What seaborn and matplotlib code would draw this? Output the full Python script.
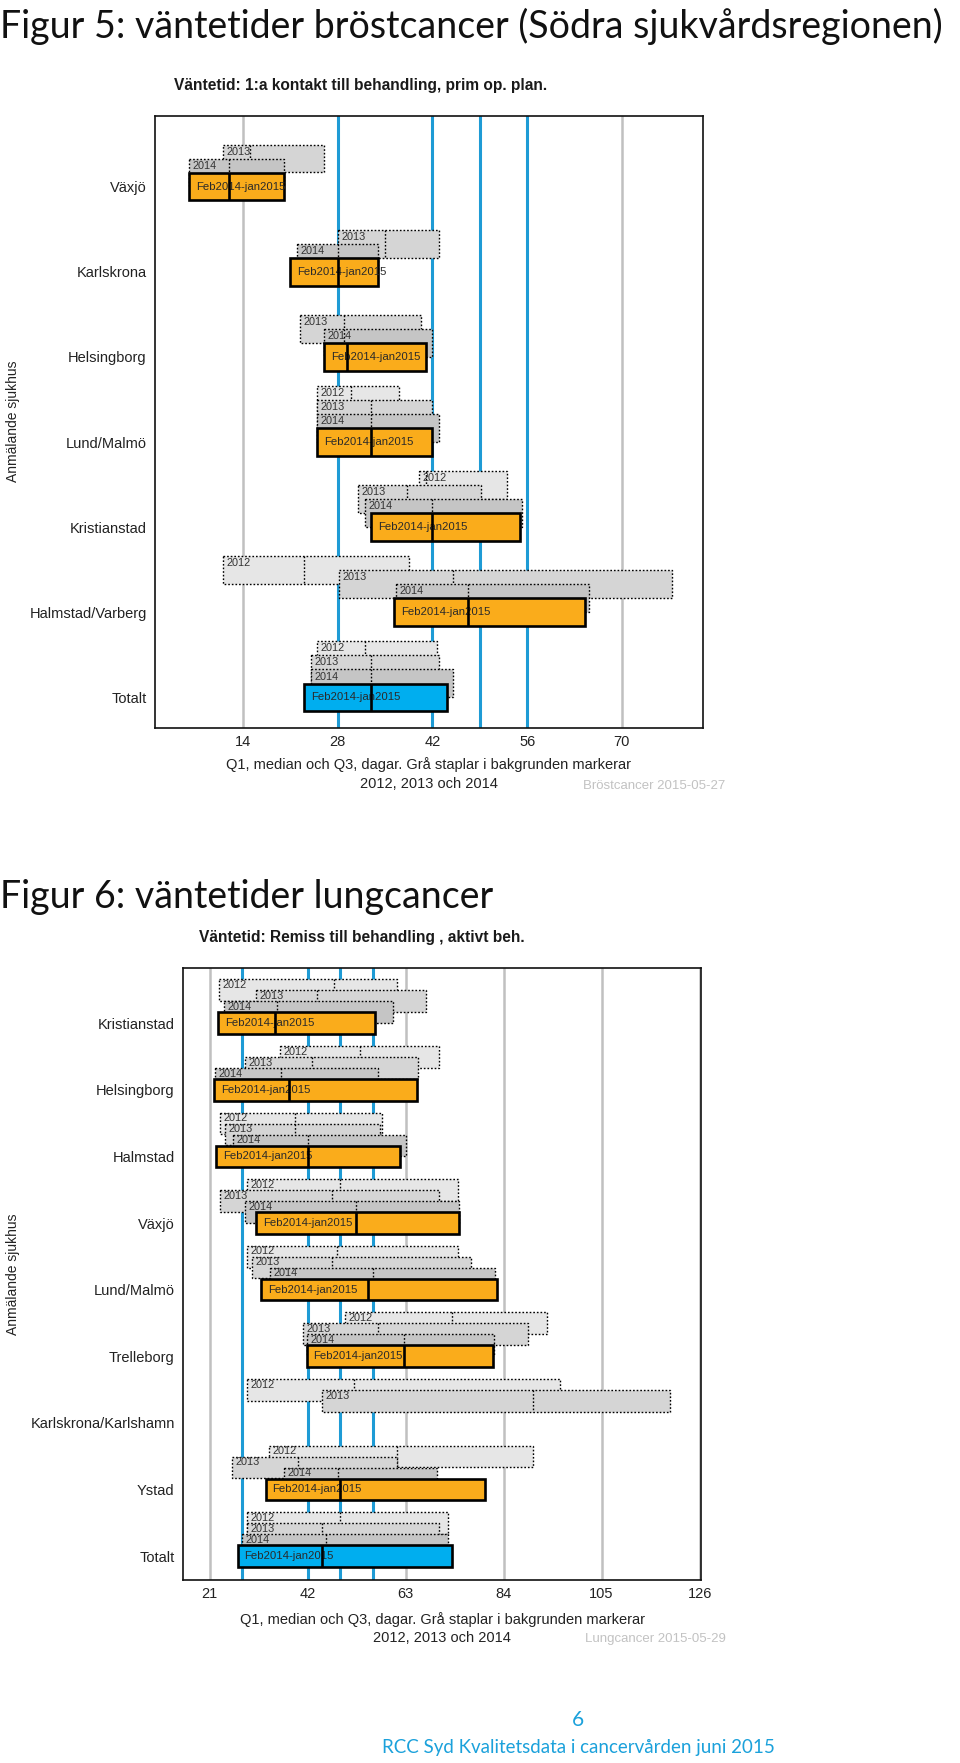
import numpy as np
import matplotlib
matplotlib.use("Agg")
import matplotlib.pyplot as plt
import seaborn as sns

nan = np.nan

# ---------------- data: breast cancer (Figur 5) ----------------
BREAST_CATS = ["Växjö", "Karlskrona", "Helsingborg", "Lund/Malmö",
               "Kristianstad", "Halmstad/Varberg", "Totalt"]
BREAST_MAIN_Q1 = [6, 21, 26, 25, 33, 36.3, 23]
BREAST_MAIN_MED = [12, 28, 29.4, 33, 42, 47.2, 33]
BREAST_MAIN_Q3 = [20, 34, 41, 42, 55, 64.5, 44.2]
BREAST_2014_Q1 = [6, 22, 26, 25, 32, 36.6, 24]
BREAST_2014_MED = [12, 28, 29, 33, 42, 47.3, 33]
BREAST_2014_Q3 = [20, 34, 42, 43, 55.2, 65.2, 45]
BREAST_2013_Q1 = [11, 28, 22.5, 25, 31, 28.2, 24]
BREAST_2013_MED = [15, 35, 29, 33, 38.2, 45, 33]
BREAST_2013_Q3 = [26, 43, 40.3, 42, 49.2, 77.4, 43]
BREAST_2012_Q1 = [nan, nan, nan, 25, 40, 11, 25]
BREAST_2012_MED = [nan, nan, nan, 30, 41, 23, 32]
BREAST_2012_Q3 = [nan, nan, nan, 37, 53, 38.6, 42.7]
BREAST_XTICKS = [14, 28, 42, 56, 70]

# ---------------- data: lung cancer (Figur 6) ----------------
LUNG_CATS = ["Kristianstad", "Helsingborg", "Halmstad", "Växjö", "Lund/Malmö",
             "Trelleborg", "Karlskrona/Karlshamn", "Ystad", "Totalt"]
LUNG_MAIN_Q1 = [22.8, 22, 22.4, 31, 32, 41.8, nan, 33, 27]
LUNG_MAIN_MED = [35, 38, 42, 52.4, 55, 62.6, nan, 49, 45]
LUNG_MAIN_Q3 = [56.5, 65.5, 61.8, 74.5, 82.5, 81.8, nan, 80, 73]
LUNG_2014_Q1 = [24, 22.2, 26, 28.6, 34, 41.8, nan, 37, 28]
LUNG_2014_MED = [35.5, 36.2, 42, 52.4, 56, 62.6, nan, 48.5, 46]
LUNG_2014_Q3 = [60.4, 57, 63, 74.5, 82.2, 82, nan, 69.7, 72]
LUNG_2013_Q1 = [31, 28.6, 24.4, 23.3, 30, 41, 45, 25.7, 29]
LUNG_2013_MED = [44, 43, 39.2, 47.2, 47.2, 57, 90.2, 40, 45]
LUNG_2013_Q3 = [67.3, 65.7, 57.5, 70.2, 77, 89.2, 119.6, 61.2, 70.2]
LUNG_2012_Q1 = [23, 36, 23.3, 29, 29, 50, 29, 33.7, 29]
LUNG_2012_MED = [47.7, 53.2, 39.2, 49, 48.2, 73, 52, 61.2, 49]
LUNG_2012_Q3 = [61.2, 70.2, 57.9, 74.2, 74.2, 93.2, 96, 90.2, 72]
LUNG_XTICKS = [21, 42, 63, 84, 105, 126]

REF_LINES = [28, 42, 49, 56]
YEAR_LABELS = ["2012", "2013", "2014"]
MAIN_LABEL = "Feb2014-jan2015"

# ---------------- style ----------------
sns.set_theme(style="white")
plt.rcParams["font.family"] = ["Liberation Sans", "DejaVu Sans"]

ORANGE = "#FAAC1B"
TOTAL_BLUE = "#00AEEF"
REF_BLUE = "#1E9BD5"
GRID = "#C0C0C0"
YEAR_COLORS = ["#E6E6E6", "#D5D5D5", "#C5C5C5"]
DOT = (0, (1.2, 1.4))
H = 0.325
SHIFT = 0.165

W, HGT = 960, 1763
fig = plt.figure(figsize=(W / 100, HGT / 100), dpi=100)


def fx(x):
    return x / W


def fy(y):
    return 1 - y / HGT


def draw_panel(ax, cats, layers, xlim, xticks):
    n = len(cats)
    ypos = np.arange(n)
    for gx in xticks:
        ax.axvline(gx, color=GRID, lw=1.8, zorder=0)
    for bx in REF_LINES:
        ax.axvline(bx, color=REF_BLUE, lw=2.2, zorder=0.5)
    for k, (label, q1, med, q3, level, is_main) in enumerate(layers):
        q1 = np.asarray(q1, float)
        med = np.asarray(med, float)
        q3 = np.asarray(q3, float)
        mask = ~np.isnan(q1)
        c = ypos[mask] - level * SHIFT
        z = 2 + k
        if is_main:
            cols = [TOTAL_BLUE if cats[i] == "Totalt" else ORANGE
                    for i in range(n) if mask[i]]
            ax.barh(c, q3[mask] - q1[mask], left=q1[mask], height=H,
                    color=cols, edgecolor="black", linewidth=1.9, zorder=z)
            ax.vlines(med[mask], c - H / 2, c + H / 2, color="black",
                      lw=1.9, zorder=z + 0.3)
            for xi, yi in zip(q1[mask], c):
                ax.annotate(label, (xi, yi), xytext=(5, 0),
                            textcoords="offset points", va="center",
                            ha="left", fontsize=8.2, color="#2a2a2a",
                            zorder=z + 0.2)
        else:
            ax.barh(c, q3[mask] - q1[mask], left=q1[mask], height=H,
                    color=YEAR_COLORS[3 - level], edgecolor="black",
                    linewidth=1.0, linestyle=DOT, zorder=z)
            ax.vlines(med[mask], c - H / 2, c + H / 2, color="black",
                      lw=1.0, linestyles=DOT, zorder=z + 0.3)
            for xi, yi in zip(q1[mask], c):
                ax.annotate(label, (xi, yi - H / 2 + SHIFT / 2),
                            xytext=(2.5, 0), textcoords="offset points",
                            va="center", ha="left", fontsize=7.8,
                            color="#333333", zorder=z + 0.2)
    ax.set_xlim(*xlim)
    ax.set_ylim(n - 1 + 0.36, -0.83)
    ax.set_yticks(ypos)
    ax.set_yticklabels(cats, fontsize=10.5, color="#222222")
    ax.set_xticks(xticks)
    ax.set_xticklabels([str(t) for t in xticks], fontsize=10.5,
                       color="#222222")
    ax.tick_params(axis="both", length=0)
    ax.tick_params(axis="y", pad=6)
    ax.tick_params(axis="x", pad=5)
    ax.grid(False)
    for sp in ax.spines.values():
        sp.set_visible(True)
        sp.set_color("#111111")
        sp.set_linewidth(1.2)


# ---------------- top panel ----------------
ax1 = fig.add_axes([fx(155), fy(728), fx(703) - fx(155), fy(116) - fy(728)])
layers1 = [
    (YEAR_LABELS[0], BREAST_2012_Q1, BREAST_2012_MED, BREAST_2012_Q3, 3, False),
    (YEAR_LABELS[1], BREAST_2013_Q1, BREAST_2013_MED, BREAST_2013_Q3, 2, False),
    (YEAR_LABELS[2], BREAST_2014_Q1, BREAST_2014_MED, BREAST_2014_Q3, 1, False),
    (MAIN_LABEL, BREAST_MAIN_Q1, BREAST_MAIN_MED, BREAST_MAIN_Q3, 0, True),
]
draw_panel(ax1, BREAST_CATS, layers1, (1, 82), BREAST_XTICKS)

# ---------------- bottom panel ----------------
ax2 = fig.add_axes([fx(183), fy(1580), fx(701) - fx(183), fy(968) - fy(1580)])
layers2 = [
    (YEAR_LABELS[0], LUNG_2012_Q1, LUNG_2012_MED, LUNG_2012_Q3, 3, False),
    (YEAR_LABELS[1], LUNG_2013_Q1, LUNG_2013_MED, LUNG_2013_Q3, 2, False),
    (YEAR_LABELS[2], LUNG_2014_Q1, LUNG_2014_MED, LUNG_2014_Q3, 1, False),
    (MAIN_LABEL, LUNG_MAIN_Q1, LUNG_MAIN_MED, LUNG_MAIN_Q3, 0, True),
]
draw_panel(ax2, LUNG_CATS, layers2, (15.3, 126.3), LUNG_XTICKS)

# ---------------- texts ----------------
TITLE_FONT = ["Lato", "DejaVu Sans"]
fig.text(fx(0), fy(38), "Figur 5: väntetider bröstcancer (Södra sjukvårdsregionen)",
         fontsize=27, fontweight="normal", family=TITLE_FONT, color="#111111",
         ha="left", va="baseline")
fig.text(fx(0), fy(908), "Figur 6: väntetider lungcancer",
         fontsize=27, fontweight="normal", family=TITLE_FONT, color="#111111",
         ha="left", va="baseline")

fig.text(fx(174), fy(85.5), "Väntetid: 1:a kontakt till behandling, prim op. plan.",
         fontsize=11.2, fontweight="bold", color="#1a1a1a", ha="left", va="center")
fig.text(fx(199), fy(937.5), "Väntetid: Remiss till behandling , aktivt beh.",
         fontsize=11.2, fontweight="bold", color="#1a1a1a", ha="left", va="center")

XLAB1 = "Q1, median och Q3, dagar. Grå staplar i bakgrunden markerar"
XLAB2 = "2012, 2013 och 2014"
fig.text(fx(429), fy(765), XLAB1, fontsize=10.5, color="#222222",
         ha="center", va="center")
fig.text(fx(429), fy(784), XLAB2, fontsize=10.5, color="#222222",
         ha="center", va="center")
fig.text(fx(442), fy(1620), XLAB1, fontsize=10.5, color="#222222",
         ha="center", va="center")
fig.text(fx(442), fy(1638), XLAB2, fontsize=10.5, color="#222222",
         ha="center", va="center")

fig.text(fx(725), fy(786), "Bröstcancer 2015-05-27", fontsize=9.5,
         color="#C2C2C2", ha="right", va="center")
fig.text(fx(726), fy(1639), "Lungcancer 2015-05-29", fontsize=9.5,
         color="#C2C2C2", ha="right", va="center")

fig.text(fx(13), fy(421), "Anmälande sjukhus", fontsize=10, rotation=90,
         color="#222222", ha="center", va="center")
fig.text(fx(13), fy(1274), "Anmälande sjukhus", fontsize=10, rotation=90,
         color="#222222", ha="center", va="center")

FOOT = "#1BA1DB"
fig.text(fx(578), fy(1720), "6", fontsize=15, fontweight="normal",
         family=TITLE_FONT, color=FOOT, ha="center", va="center")
fig.text(fx(578), fy(1747), "RCC Syd Kvalitetsdata i cancervården juni 2015",
         fontsize=13.5, fontweight="normal", family=TITLE_FONT, color=FOOT,
         ha="center", va="center")

fig.savefig("out.png", dpi=100, facecolor="white")
